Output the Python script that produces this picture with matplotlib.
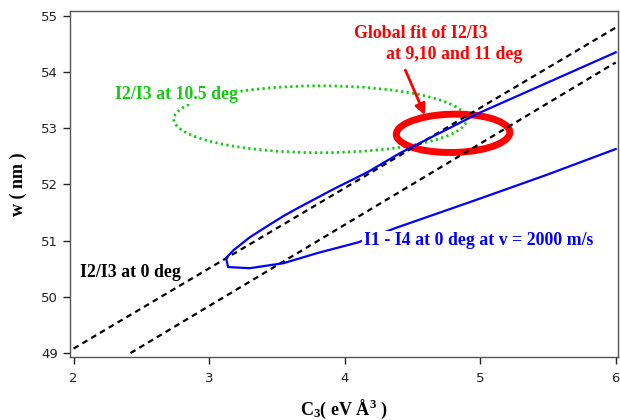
import matplotlib.pyplot as plt
import numpy as np
from matplotlib.patches import Ellipse

plt.rcParams["mathtext.fontset"] = "custom"
plt.rcParams["mathtext.rm"] = "Liberation Serif:bold"
plt.rcParams["mathtext.default"] = "rm"

# dashed lines: I2/I3 at 0 deg
dash_upper_x = [2.0, 6.0]
dash_upper_y = [49.08, 54.79]
dash_lower_x = [2.42, 6.0]
dash_lower_y = [49.0, 54.17]

# blue contour: I1 - I4 at 0 deg (upper branch, tip, lower branch)
blue_x = [6.0, 5.0, 4.41, 4.17, 3.92, 3.67, 3.55, 3.43, 3.30, 3.18, 3.125,
          3.14, 3.30, 3.55, 3.80, 4.10, 4.37, 5.0, 5.49, 6.0]
blue_y = [54.35, 53.28, 52.56, 52.22, 51.92, 51.60, 51.44, 51.26, 51.06, 50.83, 50.69,
          50.53, 50.51, 50.60, 50.78, 50.97, 51.22, 51.75, 52.17, 52.63]

# green confidence ellipse: I2/I3 at 10.5 deg (center, full width, full height)
green_center = (3.82, 53.16)
green_size = (2.16, 1.19)

# red ellipse: global fit of I2/I3 at 9,10 and 11 deg
red_center = (4.80, 52.91)
red_size = (0.84, 0.68)
red_angle = 7

fig = plt.figure(figsize=(6.2, 4.2), dpi=100)
ax = fig.add_axes([0.113, 0.15, 0.884, 0.823])

ax.plot(dash_upper_x, dash_upper_y, color="black", lw=1.6, dashes=(2.6, 2.0))
ax.plot(dash_lower_x, dash_lower_y, color="black", lw=1.6, dashes=(2.6, 2.0))
ax.plot(blue_x, blue_y, color="#0000ff", lw=1.6)

ax.add_patch(Ellipse(green_center, *green_size, fill=False, edgecolor="#11cc11",
                     lw=2.0, linestyle=(0, (0.8, 1.2))))
ax.add_patch(Ellipse(red_center, *red_size, angle=red_angle, fill=False,
                     edgecolor="#ff0000", lw=5))

serif = "Liberation Serif"
fs = 12.8
ax.text(2.76, 53.60, "I2/I3 at 10.5 deg", color="#11cc11", fontsize=fs, fontweight="bold",
        family=serif, ha="center", va="center", zorder=5,
        bbox=dict(facecolor="white", edgecolor="none", pad=0.5))
ax.text(2.05, 50.44, "I2/I3 at 0 deg", color="black", fontsize=fs, fontweight="bold",
        family=serif, ha="left", va="center", zorder=5)
ax.text(4.14, 51.0, "I1 - I4 at 0 deg at v = 2000 m/s", color="#0000ff", fontsize=fs,
        fontweight="bold", family=serif, ha="left", va="center", zorder=5,
        bbox=dict(facecolor="white", edgecolor="none", pad=1.0))
ax.text(4.56, 54.68, "Global fit of I2/I3", color="#ff0000", fontsize=fs, fontweight="bold",
        family=serif, ha="center", va="center", zorder=5)
ax.text(4.81, 54.31, "at 9,10 and 11 deg", color="#ff0000", fontsize=fs, fontweight="bold",
        family=serif, ha="center", va="center", zorder=5)
ax.annotate("", xy=(4.60, 53.19), xytext=(4.44, 54.08),
            arrowprops=dict(arrowstyle="-|>", color="#ff0000", lw=2, mutation_scale=16))

ax.set_xlim(1.974, 6.018)
ax.set_ylim(48.93, 55.08)
ax.set_xticks([2, 3, 4, 5, 6])
ax.set_yticks([49, 50, 51, 52, 53, 54, 55])
ax.tick_params(direction="out", length=5, width=1, labelsize=9.5, colors="#222222",
               top=False, right=False)
ax.tick_params(axis="x", pad=6)
for s in ax.spines.values():
    s.set_color("#555555")
    s.set_linewidth(1)

ax.set_xlabel("C$_3$( eV Å$^3$ )", fontsize=13, fontweight="bold", family=serif, labelpad=9)
ax.set_ylabel("w ( nm )", fontsize=13, fontweight="bold", family=serif, labelpad=10)

fig.savefig("out.png", dpi=100)
